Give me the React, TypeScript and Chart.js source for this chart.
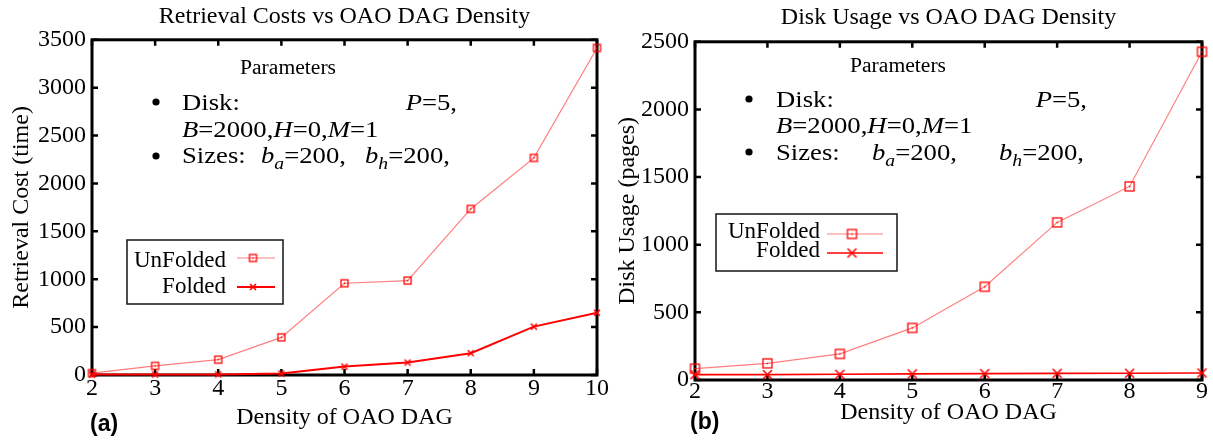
import React, { useEffect, useRef } from 'react';
import { Chart, registerables } from 'chart.js';

Chart.register(...registerables);

// ---------------- data ----------------
const densityA = ['2', '3', '4', '5', '6', '7', '8', '9', '10'];
const unfoldedA = [20, 95, 160, 393, 958, 986, 1734, 2267, 3415];
const foldedA = [5, 5, 6, 15, 88, 130, 228, 505, 650];

const densityB = ['2', '3', '4', '5', '6', '7', '8', '9'];
const unfoldedB = [84, 123, 193, 385, 689, 1165, 1431, 2426];
const foldedB = [40, 40, 42, 45, 47, 49, 50, 52];

const seriesNames = ['UnFolded', 'Folded'];
const chartTitles = ['Retrieval Costs vs OAO DAG Density', 'Disk Usage vs OAO DAG Density'];
const yTitles = ['Retrieval Cost (time)', 'Disk Usage (pages)'];
const xTitle = 'Density of OAO DAG';
const panelTags = ['(a)', '(b)'];
const yMaxes = [3500, 2500];
const yStep = 500;
const paramHeader = 'Parameters';

type Run = { t: string; it?: boolean; sub?: boolean };
const diskRuns: Run[] = [{ t: 'Disk:' }];
const pRuns: Run[] = [{ t: 'P', it: true }, { t: '=5,' }];
const bRuns: Run[] = [
  { t: 'B', it: true }, { t: '=2000,' }, { t: 'H', it: true }, { t: '=0,' }, { t: 'M', it: true }, { t: '=1' },
];
const sizesRuns: Run[] = [{ t: 'Sizes:' }];
const baRuns: Run[] = [{ t: 'b', it: true }, { t: 'a', it: true, sub: true }, { t: '=200,' }];
const bhRuns: Run[] = [{ t: 'b', it: true }, { t: 'h', it: true, sub: true }, { t: '=200,' }];

// ---------------- styling / layout ----------------
const SERIF = '"Liberation Serif", "Times New Roman", serif';
const SANS = '"Liberation Sans", Arial, sans-serif';
const FS = 24;

type ParamLine = { x: number; y: number; runs: Run[]; align?: 'left' | 'right' };
type Decor = {
  header: { x: number; y: number };
  bullets: { x: number; y: number }[];
  lines: ParamLine[];
  box: [number, number, number, number];
  legendTextX: number;
  legendTextY: number[];
  legendLineY: number[];
  legendLine: [number, number];
  legendMarkX: number;
  tag: { x: number; y: number };
  foldedWidth: number;
};

const decorA: Decor = {
  header: { x: 288, y: 74 },
  bullets: [{ x: 156, y: 102 }, { x: 156, y: 156 }],
  lines: [
    { x: 182, y: 110, runs: diskRuns },
    { x: 457, y: 110, runs: pRuns, align: 'right' },
    { x: 182, y: 137, runs: bRuns },
    { x: 182, y: 163, runs: sizesRuns },
    { x: 261, y: 163, runs: baRuns },
    { x: 365, y: 163, runs: bhRuns },
  ],
  box: [127, 240, 156, 64],
  legendTextX: 226,
  legendTextY: [267, 293],
  legendLineY: [258, 287],
  legendLine: [237, 275],
  legendMarkX: 253,
  tag: { x: 90, y: 431 },
  foldedWidth: 2,
};

const decorB: Decor = {
  header: { x: 292, y: 72 },
  bullets: [{ x: 143, y: 99 }, { x: 143, y: 152 }],
  lines: [
    { x: 170, y: 107, runs: diskRuns },
    { x: 481, y: 107, runs: pRuns, align: 'right' },
    { x: 170, y: 133, runs: bRuns },
    { x: 170, y: 160, runs: sizesRuns },
    { x: 266, y: 160, runs: baRuns },
    { x: 393, y: 160, runs: bhRuns },
  ],
  box: [110, 214, 181, 57],
  legendTextX: 214,
  legendTextY: [238, 257],
  legendLineY: [234, 253],
  legendLine: [221, 277],
  legendMarkX: 246,
  tag: { x: 84, y: 429 },
  foldedWidth: 1.6,
};

function squareMarker(size: number, lw: number) {
  const c = document.createElement('canvas');
  const s = size + 4;
  c.width = s;
  c.height = s;
  const g = c.getContext('2d')!;
  g.strokeStyle = '#ff0000';
  g.lineWidth = lw;
  g.strokeRect((s - size) / 2, (s - size) / 2, size, size);
  g.fillStyle = '#ff0000';
  g.fillRect(s / 2 - 0.75, s / 2 - 0.75, 1.5, 1.5);
  return c;
}

function crossMarker(size: number, lw: number) {
  const c = document.createElement('canvas');
  const s = size + 4;
  c.width = s;
  c.height = s;
  const g = c.getContext('2d')!;
  g.strokeStyle = '#ff0000';
  g.lineWidth = lw;
  const o = (s - size) / 2;
  g.beginPath();
  g.moveTo(o, o);
  g.lineTo(o + size, o + size);
  g.moveTo(o + size, o);
  g.lineTo(o, o + size);
  g.stroke();
  return c;
}

const STRETCH = 1.16;
const PARAM_FS = 23;

function runFont(r: Run, size: number) {
  const s = r.sub ? Math.round(size * 0.72) : size;
  return `${r.it ? 'italic ' : ''}${s}px ${SERIF}`;
}

function runsWidth(ctx: CanvasRenderingContext2D, runs: Run[], size: number) {
  let w = 0;
  for (const r of runs) {
    ctx.font = runFont(r, size);
    w += ctx.measureText(r.t).width;
  }
  return w * STRETCH;
}

function drawRuns(ctx: CanvasRenderingContext2D, runs: Run[], x: number, y: number, size: number) {
  ctx.save();
  ctx.translate(x, y);
  ctx.scale(STRETCH, 1);
  let cx = 0;
  for (const r of runs) {
    ctx.font = runFont(r, size);
    ctx.fillText(r.t, cx, r.sub ? size * 0.28 : 0);
    cx += ctx.measureText(r.t).width;
  }
  ctx.restore();
}

function makeDecor(d: Decor, markers: HTMLCanvasElement[], colors: string[], widths: number[], tag: string) {
  return {
    id: 'paperDecor',
    beforeDatasetsDraw(chart: any) {
      const { ctx, chartArea: a, scales } = chart;
      const xs = scales.x;
      const ys = scales.y;
      const L = 6;
      ctx.save();
      ctx.strokeStyle = '#000';
      ctx.lineWidth = 2.5;
      ctx.beginPath();
      xs.ticks.forEach((_t: any, i: number) => {
        const px = xs.getPixelForTick(i);
        ctx.moveTo(px, a.bottom);
        ctx.lineTo(px, a.bottom - L);
        ctx.moveTo(px, a.top);
        ctx.lineTo(px, a.top + L);
      });
      ys.ticks.forEach((t: any) => {
        const py = ys.getPixelForValue(t.value);
        ctx.moveTo(a.left, py);
        ctx.lineTo(a.left + L, py);
        ctx.moveTo(a.right, py);
        ctx.lineTo(a.right - L, py);
      });
      ctx.stroke();
      ctx.lineWidth = 3;
      ctx.strokeRect(a.left, a.top, a.right - a.left, a.bottom - a.top);
      ctx.restore();
    },
    afterDraw(chart: any) {
      const ctx: CanvasRenderingContext2D = chart.ctx;
      ctx.save();
      ctx.fillStyle = '#000';
      ctx.textBaseline = 'alphabetic';
      // parameters header
      ctx.save();
      ctx.translate(d.header.x, d.header.y);
      ctx.scale(1.08, 1);
      ctx.font = `20px ${SERIF}`;
      ctx.textAlign = 'center';
      ctx.fillText(paramHeader, 0, 0);
      ctx.restore();
      ctx.textAlign = 'left';
      // bullets
      d.bullets.forEach((b) => {
        ctx.beginPath();
        ctx.arc(b.x, b.y, 3.6, 0, Math.PI * 2);
        ctx.fill();
      });
      // text lines
      d.lines.forEach((ln) => {
        const w = runsWidth(ctx, ln.runs, PARAM_FS);
        const x = ln.align === 'right' ? ln.x - w : ln.x;
        drawRuns(ctx, ln.runs, x, ln.y, PARAM_FS);
      });
      // legend box
      const [bx, by, bw, bh] = d.box;
      ctx.strokeStyle = '#222';
      ctx.lineWidth = 1.6;
      ctx.strokeRect(bx, by, bw, bh);
      ctx.textAlign = 'right';
      ctx.font = `23px ${SERIF}`;
      seriesNames.forEach((name, i) => {
        ctx.fillStyle = '#000';
        ctx.fillText(name, d.legendTextX, d.legendTextY[i]);
        ctx.strokeStyle = colors[i];
        ctx.lineWidth = widths[i];
        ctx.beginPath();
        ctx.moveTo(d.legendLine[0], d.legendLineY[i]);
        ctx.lineTo(d.legendLine[1], d.legendLineY[i]);
        ctx.stroke();
        const m = markers[i];
        ctx.drawImage(m, d.legendMarkX - m.width / 2, d.legendLineY[i] - m.height / 2);
      });
      // panel tag
      ctx.textAlign = 'left';
      ctx.fillStyle = '#000';
      ctx.font = `bold 23px ${SANS}`;
      ctx.fillText(tag, d.tag.x, d.tag.y);
      ctx.restore();
    },
  };
}

type PanelProps = {
  idx: number;
  left: number;
  width: number;
  labels: string[];
  unfolded: number[];
  folded: number[];
  decor: Decor;
  yAxisWidth: number;
  xAxisHeight: number;
  rightPad: number;
  titlePad: [number, number];
  xTickPad: number;
  xTitlePad: number;
  markSize: [number, number];
};

function Panel(p: PanelProps) {
  const ref = useRef<HTMLCanvasElement>(null);
  useEffect(() => {
    const sq = squareMarker(p.markSize[0], 1.3);
    const cr = crossMarker(p.markSize[1], 1.6);
    const colors = ['rgba(255,0,0,0.5)', '#ff0000'];
    const widths = [1.2, p.decor.foldedWidth];
    const font = { family: SERIF, size: FS, weight: 'normal' as const };
    const chart = new Chart(ref.current!, {
      type: 'line',
      data: {
        labels: p.labels,
        datasets: [
          {
            label: seriesNames[0],
            data: p.unfolded,
            borderColor: colors[0],
            borderWidth: widths[0],
            pointStyle: sq as any,
            pointRadius: 4,
            tension: 0,
            fill: false,
            clip: false as any,
          },
          {
            label: seriesNames[1],
            data: p.folded,
            borderColor: colors[1],
            borderWidth: widths[1],
            pointStyle: cr as any,
            pointRadius: 4,
            tension: 0,
            fill: false,
            clip: false as any,
          },
        ],
      },
      options: {
        responsive: false,
        animation: false,
        events: [],
        layout: { padding: { left: 0, right: p.rightPad, top: 0, bottom: 0 } },
        plugins: {
          legend: { display: false },
          tooltip: { enabled: false },
          title: {
            display: true,
            text: chartTitles[p.idx],
            fullSize: false,
            color: '#000',
            font,
            padding: { top: p.titlePad[0], bottom: p.titlePad[1] },
          },
        },
        scales: {
          x: {
            type: 'category',
            offset: false,
            grid: { display: false, drawTicks: false },
            border: { display: false },
            ticks: { color: '#000', font, padding: p.xTickPad, maxRotation: 0, autoSkip: false },
            title: { display: true, text: xTitle, color: '#000', font, padding: { top: 0, bottom: p.xTitlePad } },
            afterFit: (s: any) => {
              s.height = p.xAxisHeight;
              s.paddingLeft = 0;
              s.paddingRight = 0;
            },
          },
          y: {
            min: 0,
            max: yMaxes[p.idx],
            grid: { display: false, drawTicks: false },
            border: { display: false },
            ticks: {
              stepSize: yStep,
              color: '#000',
              font,
              padding: 6,
              callback: (v: any) => String(v),
            },
            title: { display: true, text: yTitles[p.idx], color: '#000', font, padding: { top: 7, bottom: 0 } },
            afterFit: (s: any) => {
              s.width = p.yAxisWidth;
              s.paddingTop = 0;
              s.paddingBottom = 0;
            },
          },
        },
      },
      plugins: [makeDecor(p.decor, [sq, cr], colors, widths, panelTags[p.idx])],
    });
    return () => chart.destroy();
  }, []);
  return (
    <canvas
      ref={ref}
      width={p.width}
      height={440}
      style={{ position: 'absolute', left: p.left, top: 0, width: p.width, height: 440, display: 'block' }}
    />
  );
}

export default function App() {
  return (
    <div style={{ position: 'absolute', left: 0, top: 0, width: 1213, height: 440, background: '#fff' }}>
      <Panel
        idx={0}
        left={0}
        width={618}
        labels={densityA}
        unfolded={unfoldedA}
        folded={foldedA}
        decor={decorA}
        yAxisWidth={92}
        xAxisHeight={65}
        rightPad={21}
        titlePad={[2, 9]}
        xTickPad={-1}
        xTitlePad={8}
        markSize={[7, 6]}
      />
      <Panel
        idx={1}
        left={606}
        width={607}
        labels={densityB}
        unfolded={unfoldedB}
        folded={foldedB}
        decor={decorB}
        yAxisWidth={89}
        xAxisHeight={60}
        rightPad={11}
        titlePad={[3, 10]}
        xTickPad={-3}
        xTitlePad={13}
        markSize={[9, 9]}
      />
    </div>
  );
}
